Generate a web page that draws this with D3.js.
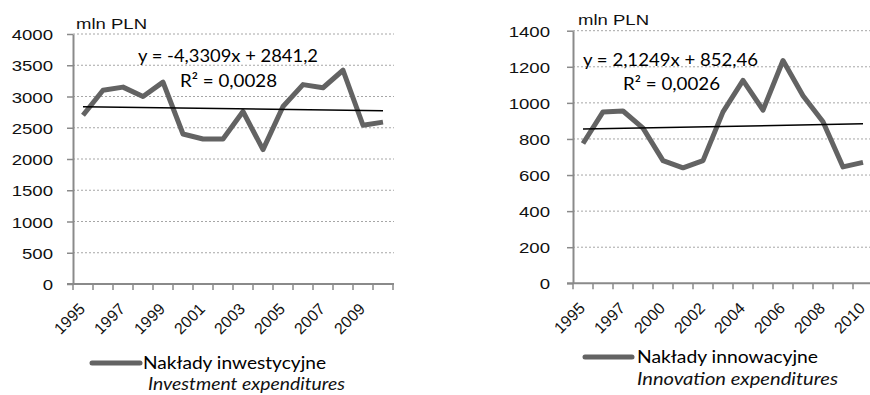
<!DOCTYPE html>
<html><head><meta charset="utf-8">
<script src="https://cdn.jsdelivr.net/npm/d3@7"></script>
<style>body{margin:0;background:#fff}svg{display:block}</style>
</head><body><svg id="c" width="870" height="395"></svg>
<script>
// ---------- DATA ----------
const yearsInvest = ['1995','1996','1997','1998','1999','2000','2001','2002','2003','2004','2005','2006','2007','2008','2009','2010'];
const valuesInvest = [2700,3100,3150,3000,3230,2400,2320,2320,2760,2150,2840,3190,3140,3420,2540,2590];
const xLabelsInvest = ['1995','1997','1999','2001','2003','2005','2007','2009'];
const yTicksInvest = [0,500,1000,1500,2000,2500,3000,3500,4000];
const trendInvest = [-4.3309, 2841.2];          // slope, intercept (x = 1..n)
const eqInvest = ['y = -4,3309x + 2841,2', 'R² = 0,0028'];
const legendInvest = ['Nakłady inwestycyjne', 'Investment expenditures'];

const yearsInnov = ['1995','1996','1997','1998','2000','2001','2002','2003','2004','2005','2006','2007','2008','2009','2010'];
const valuesInnov = [775,950,955,860,680,640,680,950,1125,960,1235,1040,895,645,670];
const xLabelsInnov = ['1995','1997','2000','2002','2004','2006','2008','2010'];
const yTicksInnov = [0,200,400,600,800,1000,1200,1400];
const trendInnov = [2.1249, 852.46];
const eqInnov = ['y = 2,1249x + 852,46', 'R² = 0,0026'];
const legendInnov = ['Nakłady innowacyjne', 'Innovation expenditures'];

const unitLabel = 'mln PLN';

// ---------- LAYOUT ----------
const svg = d3.select('#c');
svg.append('rect').attr('width',870).attr('height',395).attr('fill','#fff');

const AX = '#8a8a8a', GRID = '#a6a6a6', SERIES = '#636363', TXT = '#111';
const sansA = '"Liberation Sans", Arial, sans-serif';
const sansB = 'Lato, "Open Sans", sans-serif';

function panel(years, values, xLabels, yTicks, trend, eq, legend, L) {
  const g = svg.append('g');
  const x = d3.scaleBand().domain(years).range([L.x0, L.x1]).padding(0);
  const y = d3.scaleLinear().domain([0, yTicks[yTicks.length-1]]).range([L.yBot, L.yTop]);
  const cx = d => x(d) + x.bandwidth()/2;

  // grid
  g.append('g').selectAll('line').data(yTicks.slice(1)).join('line')
    .attr('x1', L.x0).attr('x2', L.gridEnd)
    .attr('y1', d => y(d)).attr('y2', d => y(d))
    .attr('stroke', GRID).attr('stroke-width', 1).attr('stroke-dasharray', '2,2');

  // y axis
  const ya = g.append('g').attr('transform', `translate(${L.x0},0)`)
    .call(d3.axisLeft(y).tickValues(yTicks).tickFormat(d3.format('d')).tickSize(6).tickSizeOuter(0));
  ya.attr('font-family', null).attr('font-size', null);
  ya.select('.domain').attr('stroke', AX).attr('stroke-width', 2);
  ya.selectAll('.tick line').attr('stroke', AX).attr('stroke-width', 1.5);
  ya.selectAll('.tick text').attr('x', 0).attr('dy', '0.36em')
    .attr('transform', `translate(${L.yLabelRight - L.x0},0) scale(1.2,1)`)
    .attr('fill', TXT).attr('font-family', sansA).attr('font-size', 15.5);

  // x axis
  const xa = g.append('g').attr('transform', `translate(0,${L.yBot})`)
    .call(d3.axisBottom(x).tickSize(0).tickFormat(d => xLabels.includes(d) ? d : ''));
  xa.attr('font-family', null).attr('font-size', null);
  xa.select('.domain').remove();
  xa.append('line').attr('x1', L.x0 - 6).attr('x2', L.gridEnd).attr('y1', 0).attr('y2', 0)
    .attr('stroke', AX).attr('stroke-width', 2);
  xa.selectAll('.bt').data(years.map(d => x(d)).concat([L.x1])).join('line')
    .attr('class','bt').attr('x1', d => d).attr('x2', d => d).attr('y1', 0).attr('y2', 6)
    .attr('stroke', AX).attr('stroke-width', 1.5);
  xa.selectAll('.tick text')
    .attr('y', 0).attr('dy', 0)
    .attr('transform', `translate(${L.lblDx},${L.lblDy}) rotate(-45)`)
    .attr('text-anchor', 'end')
    .attr('fill', TXT).attr('font-family', sansA).attr('font-size', 16);

  // series
  const pts = years.map((d,i) => [cx(d), y(values[i])]);
  g.append('path').attr('d', d3.line()(pts))
    .attr('fill','none').attr('stroke', SERIES).attr('stroke-width', 5)
    .attr('stroke-linejoin','round');

  // trend line
  const n = years.length;
  g.append('line')
    .attr('x1', cx(years[0])).attr('y1', y(trend[0]*1 + trend[1]))
    .attr('x2', cx(years[n-1])).attr('y2', y(trend[0]*n + trend[1]))
    .attr('stroke', '#000').attr('stroke-width', 1.5);

  // unit label
  g.append('text').attr('x', L.unit[0]).attr('y', L.unit[1])
    .attr('textLength', 71).attr('lengthAdjust','spacingAndGlyphs')
    .text(unitLabel).attr('fill', TXT).attr('font-family', sansA).attr('font-size', 15.5);

  // equation
  eq.forEach((t, i) => {
    g.append('text').attr('x', L.eq[i][0]).attr('y', L.eq[i][1])
      .attr('text-anchor','middle').attr('textLength', L.eq[i][2]).attr('lengthAdjust','spacingAndGlyphs')
      .text(t).attr('fill', '#000').attr('font-family', sansB).attr('font-size', 18);
  });

  // legend
  g.append('line').attr('x1', L.leg[0]).attr('x2', L.leg[1]).attr('y1', L.leg[2]).attr('y2', L.leg[2])
    .attr('stroke', SERIES).attr('stroke-width', 5).attr('stroke-linecap','round');
  g.append('text').attr('x', L.t1[0]).attr('y', L.t1[1]).attr('textLength', L.t1[2]).attr('lengthAdjust','spacingAndGlyphs')
    .text(legend[0]).attr('fill', '#000').attr('font-family', sansB).attr('font-size', 18);
  g.append('text').attr('x', L.t2[0]).attr('y', L.t2[1]).attr('textLength', L.t2[2]).attr('lengthAdjust','spacingAndGlyphs')
    .text(legend[1]).attr('fill', '#111').attr('font-family', sansB).attr('font-size', 18).attr('font-style','italic');
}

panel(yearsInvest, valuesInvest, xLabelsInvest, yTicksInvest, trendInvest, eqInvest, legendInvest, {
  x0: 73, x1: 393, yTop: 34, yBot: 284, gridEnd: 394, yLabelRight: 53,
  lblDx: 3, lblDy: 26,
  unit: [76, 29], eq: [[228, 62, 180], [228.5, 87, 97]],
  leg: [92, 140, 363], t1: [143, 369, 183], t2: [148, 390, 197]
});
panel(yearsInnov, valuesInnov, xLabelsInnov, yTicksInnov, trendInnov, eqInnov, legendInnov, {
  x0: 573, x1: 873, yTop: 30.7, yBot: 283.3, gridEnd: 872, yLabelRight: 550,
  lblDx: 3, lblDy: 26,
  unit: [578, 25], eq: [[670.5, 66, 175], [671.5, 90, 97]],
  leg: [585, 632, 357], t1: [637, 363, 181], t2: [637, 385, 201]
});
</script></body></html>
